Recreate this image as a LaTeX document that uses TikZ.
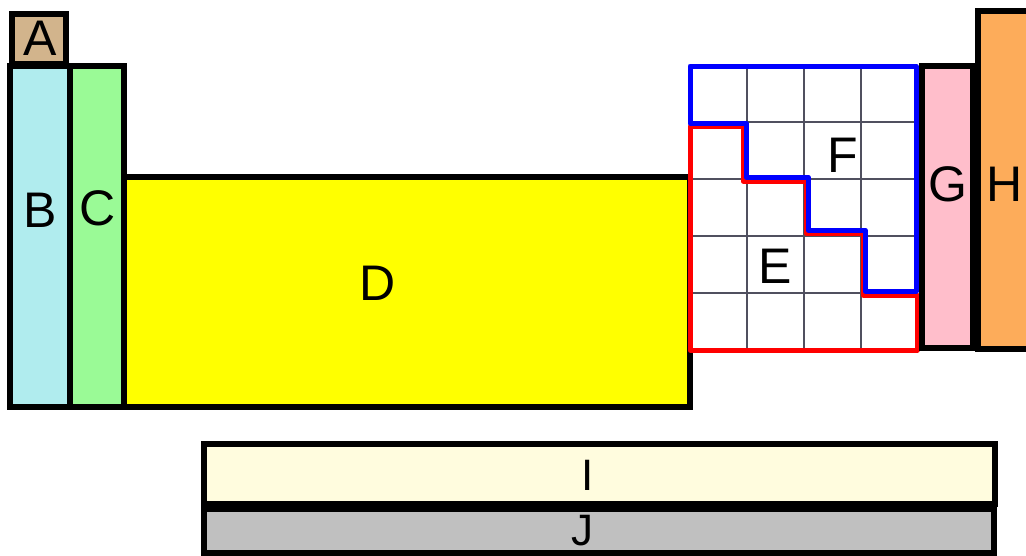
\documentclass[tikz,border=0pt]{standalone}
\usepackage{fontspec}
\setmainfont{Liberation Sans}
\definecolor{tanA}{RGB}{210,180,140}
\definecolor{cyanB}{RGB}{176,236,238}
\definecolor{greenC}{RGB}{154,250,150}
\definecolor{yellowD}{RGB}{255,255,0}
\definecolor{pinkG}{RGB}{255,190,203}
\definecolor{orangeH}{RGB}{253,172,90}
\definecolor{yellowI}{RGB}{255,252,222}
\definecolor{grayJ}{RGB}{192,192,192}
\definecolor{gridgray}{RGB}{80,80,95}
\definecolor{R}{RGB}{255,0,0}
\definecolor{B}{RGB}{0,0,255}

\begin{document}
\begin{tikzpicture}[x=1pt, y=-1pt,
   block/.style={draw=black, line width=5.5pt},
   lab/.style={font=\fontsize{50}{60}\selectfont},
   smalllab/.style={font=\fontsize{44}{52}\selectfont},
   gridline/.style={gridgray, line width=2pt},
   edge/.style={line width=5pt, line join=round, line cap=round}]
   \useasboundingbox (0,0) rectangle (1026,555);
   % left blocks
   \draw[block, fill=tanA] (12,14) rectangle (66,64);
   \draw[block, fill=cyanB] (10,66) rectangle (70,407);
   \draw[block, fill=greenC] (70,66) rectangle (124,407);
   \draw[block, fill=yellowD] (124,177) rectangle (690,407);
   % grid
   \foreach \x in {747,804,861}
      \draw[gridline] (\x,65) -- (\x,350);
   \foreach \y in {122,179,236,293}
      \draw[gridline] (690,\y) -- (918,\y);
   \draw[edge, R] (690,126) -- (743,126) -- (743,181) -- (806,181) -- (806,233)
      -- (863,233) -- (863,295) -- (917,295) -- (917,350) -- (690,350) -- cycle;
   \draw[edge, B] (690,123) -- (690,66) -- (916,66) -- (916,291) -- (865,291)
      -- (865,230) -- (808,230) -- (808,177) -- (746,177) -- (746,123) -- cycle;
   % right blocks
   \draw[block, fill=pinkG] (922,66) rectangle (973,348);
   \draw[block, fill=orangeH] (978,11) rectangle (1034,349);
   % bottom rows
   \draw[block, fill=yellowI] (204,444) rectangle (995,504);
   \draw[block, fill=grayJ] (204,509) rectangle (994,553);
   % labels
   \node[lab] (a) at (40,38) {A};
   \node[lab] (b) at (40,210) {B};
   \node[lab] (c) at (98,208) {C};
   \node[lab] (d) at (378,283) {D};
   \node[lab] (e) at (775,266) {E};
   \node[lab] (f) at (843,155) {F};
   \node[lab] (g) at (948,184) {G};
   \node[lab] (h) at (1005,184) {H};
   \node[smalllab] (i) at (588,475) {I};
   \node[smalllab] (j) at (582,531) {J};
\end{tikzpicture}
\end{document}
